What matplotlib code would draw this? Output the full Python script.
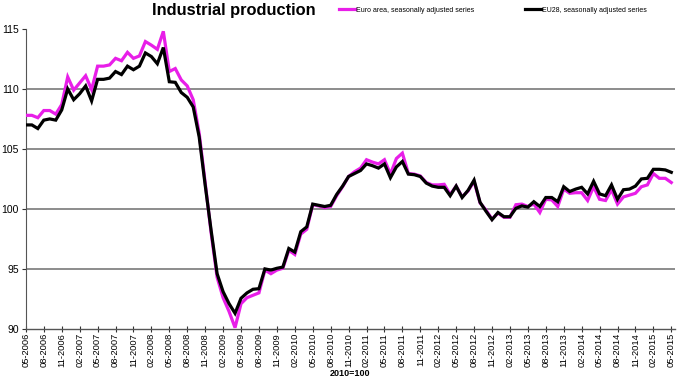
#!/usr/bin/python3

import numpy as np
import matplotlib
import matplotlib.pyplot as plt
from matplotlib.lines import Line2D

# Use a non-interactive backend
matplotlib.use('Agg')

plt.rcParams['font.family'] = ['Liberation Sans', 'DejaVu Sans']

# Monthly index, 05-2006 .. 05-2015 (2010=100)
euro_area = [
    107.8, 107.8, 107.6, 108.2, 108.2, 107.9, 108.7, 111.0, 109.9, 110.5,
    111.1, 109.95, 111.9, 111.9, 112.0, 112.55, 112.35, 113.05, 112.55, 112.75,
    113.95, 113.65, 113.3, 114.8, 111.45, 111.7, 110.75, 110.25, 109.1, 106.3,
    102.2, 98.0, 94.3, 92.6, 91.45, 90.1, 92.1, 92.6, 92.8, 93.0,
    94.9, 94.6, 94.9, 95.05, 96.55, 96.2, 97.9, 98.3, 100.35, 100.25,
    100.1, 100.2, 101.1, 101.85, 102.7, 103.1, 103.4, 104.1, 103.9, 103.75,
    104.1, 102.9, 104.2, 104.65, 102.95, 102.9, 102.75, 102.2, 102.0, 102.0,
    102.05, 101.2, 101.9, 101.0, 101.5, 102.3, 100.5, 99.9, 99.15, 99.65,
    99.3, 99.3, 100.35, 100.4, 100.2, 100.4, 99.7, 100.8, 100.75, 100.2,
    101.65, 101.3, 101.35, 101.35, 100.7, 101.85, 100.8, 100.7, 101.6, 100.4,
    101.0, 101.15, 101.3, 101.85, 102.0, 102.95, 102.55, 102.55, 102.2,
]

eu28 = [
    107.0, 107.0, 106.7, 107.4, 107.5, 107.4, 108.25, 110.0, 109.1, 109.6,
    110.25, 109.0, 110.8, 110.8, 110.9, 111.45, 111.2, 111.9, 111.6, 111.9,
    113.0, 112.7, 112.1, 113.45, 110.6, 110.55, 109.7, 109.3, 108.5, 106.0,
    102.0, 98.2, 94.6, 93.1, 92.1, 91.3, 92.55, 93.0, 93.3, 93.35,
    95.0, 94.9, 95.05, 95.15, 96.7, 96.4, 98.1, 98.5, 100.4, 100.3,
    100.2, 100.3, 101.2, 101.9, 102.7, 102.95, 103.2, 103.75, 103.6, 103.4,
    103.75, 102.6, 103.5, 103.95, 102.9, 102.85, 102.7, 102.15, 101.9, 101.8,
    101.8, 101.1, 101.9, 100.95, 101.55, 102.4, 100.55, 99.8, 99.1, 99.7,
    99.35, 99.35, 100.05, 100.25, 100.15, 100.6, 100.2, 100.95, 100.95, 100.6,
    101.85, 101.45, 101.65, 101.8, 101.25, 102.3, 101.25, 101.1, 102.0, 100.8,
    101.6, 101.65, 101.9, 102.5, 102.55, 103.3, 103.3, 103.25, 103.05,
]

tick_labels = [
    '05-2006', '08-2006', '11-2006', '02-2007', '05-2007', '08-2007', '11-2007',
    '02-2008', '05-2008', '08-2008', '11-2008', '02-2009', '05-2009', '08-2009',
    '11-2009', '02-2010', '05-2010', '08-2010', '11-2010', '02-2011', '05-2011',
    '08-2011', '11-2011', '02-2012', '05-2012', '08-2012', '11-2012', '02-2013',
    '05-2013', '08-2013', '11-2013', '02-2014', '05-2014', '08-2014', '11-2014',
    '02-2015', '05-2015',
]
y_ticks = [90, 95, 100, 105, 110, 115]
grid_levels = [95, 100, 105, 110]

PINK = '#e81ee8'

fig = plt.figure(figsize=(6.81, 3.86), dpi=100)
ax = fig.add_axes([0.038, 0.148, 0.953, 0.777])

x = np.arange(len(euro_area))
for g in grid_levels:
    ax.axhline(g, color='#6e6e6e', lw=1.1, zorder=1)

ax.plot(x, euro_area, color=PINK, lw=2.3, zorder=3, solid_joinstyle='miter')
ax.plot(x, eu28, color='black', lw=2.3, zorder=4, solid_joinstyle='miter')

ax.set_xlim(0, 108.6)
ax.set_ylim(90, 115)
ax.set_yticks(y_ticks)
ax.set_yticklabels([str(v) for v in y_ticks], fontsize=7.5)
ax.set_xticks(np.arange(0, len(euro_area), 3))
ax.set_xticklabels(tick_labels, rotation=90, fontsize=6.7)
ax.tick_params(axis='x', direction='inout', length=4, width=0.8, pad=1, colors='#333333')
ax.tick_params(axis='y', direction='out', length=3, width=0.8, pad=2, colors='#333333')
for lab in ax.get_xticklabels() + ax.get_yticklabels():
    lab.set_color('black')

ax.spines['top'].set_visible(False)
ax.spines['right'].set_visible(False)
ax.spines['left'].set_color('#555555')
ax.spines['bottom'].set_color('#555555')
ax.spines['left'].set_linewidth(0.8)
ax.spines['bottom'].set_linewidth(1.0)

ax.set_xlabel('2010=100', fontsize=6.5, fontweight='bold', labelpad=1)

fig.text(0.343, 0.974, 'Industrial production', fontsize=11.8, fontweight='bold',
         ha='center', va='center')

handles = [Line2D([], [], color=PINK, lw=2.3),
           Line2D([], [], color='black', lw=2.3)]
fig.legend(handles, ['Euro area, seasonally adjusted series', 'EU28, seasonally adjusted series'],
           loc='center left', bbox_to_anchor=(0.498, 0.974), ncol=2, frameon=False,
           fontsize=5.0, handlelength=2.3, handletextpad=0.1, columnspacing=7.4,
           borderaxespad=0, borderpad=0)

fig.savefig('out.png', dpi=100)
plt.close(fig)
